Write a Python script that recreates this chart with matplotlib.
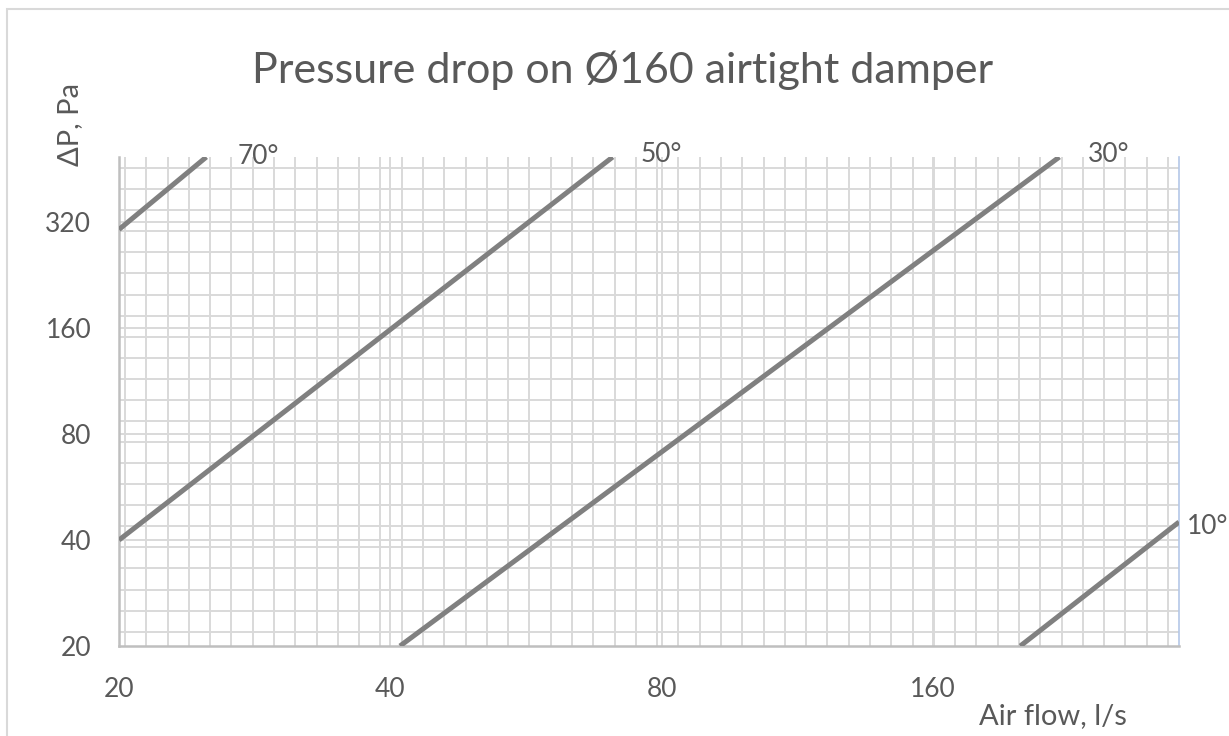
import matplotlib
matplotlib.use("Agg")
import matplotlib.pyplot as plt
from matplotlib.patches import Rectangle
from matplotlib.ticker import FixedLocator, NullLocator, FuncFormatter
import numpy as np

plt.rcParams['font.family'] = ['Lato', 'DejaVu Sans']

# damper positions and line endpoints (air flow l/s, pressure Pa)
angles = ["70°", "50°", "30°", "10°"]
flow_start = [20, 20, 41, 200]
flow_end = [25, 70.6, 221, 300]
dp_start = [305, 40, 20, 20]
dp_end = [490, 490, 490, 45]

x_ticks = [20, 40, 80, 160]
y_ticks = [20, 40, 80, 160, 320]
x_lim = (20, 300)
y_lim = (20, 490)

GRID = "#d9d9d9"
LINE = "#808080"
TEXT = "#595959"

fig = plt.figure(figsize=(12.29, 7.36), dpi=100)
fig.patches.append(Rectangle((7 / 1229, -0.01), 1.0, 1 - 9 / 736 + 0.01,
                             transform=fig.transFigure, fill=False,
                             edgecolor="#d9d9d9", linewidth=1.5))

ax = fig.add_axes([119 / 1229, 90 / 736, 1060 / 1229, 489 / 736])
ax.set_xscale("log", base=2)
ax.set_yscale("log", base=2)
ax.set_xlim(*x_lim)
ax.set_ylim(*y_lim)

# the even background grid of the original sheet (axes fractions)
for fx in 0.00566 + 0.02008 * np.arange(50):
    ax.plot([fx, fx], [0, 1], transform=ax.transAxes, color=GRID, lw=1.4, zorder=0)
for fy in 0.0292 + 0.0431 * np.arange(23):
    ax.plot([0, 1], [fy, fy], transform=ax.transAxes, color=GRID, lw=1.4, zorder=0)

# major log gridlines
for v in x_ticks[1:]:
    ax.axvline(v, color=GRID, lw=1.4, zorder=0)
for v in y_ticks[1:]:
    ax.axhline(v, color=GRID, lw=1.4, zorder=0)

for q0, q1, p0, p1 in zip(flow_start, flow_end, dp_start, dp_end):
    ax.plot([q0, q1], [p0, p1], color=LINE, lw=3.6, solid_capstyle="butt", zorder=3)

# angle labels next to the line ends
offsets = [(31, 1), (28, 2), (29, 2), (8, -4)]
for name, q1, p1, off in zip(angles, flow_end, dp_end, offsets):
    ax.annotate(name, xy=(q1, p1), xytext=off, textcoords="offset pixels",
                ha="left", va="center", fontsize=19, color=TEXT, annotation_clip=False)

ax.xaxis.set_major_locator(FixedLocator(x_ticks))
ax.yaxis.set_major_locator(FixedLocator(y_ticks))
ax.xaxis.set_minor_locator(NullLocator())
ax.yaxis.set_minor_locator(NullLocator())
fmt = FuncFormatter(lambda v, p: f"{v:g}")
ax.xaxis.set_major_formatter(fmt)
ax.yaxis.set_major_formatter(fmt)
ax.tick_params(axis="both", length=0, labelsize=19, labelcolor=TEXT)
ax.tick_params(axis="x", pad=22)
ax.tick_params(axis="y", pad=20)

ax.spines["top"].set_visible(False)
ax.spines["left"].set_color("#bfbfbf")
ax.spines["left"].set_linewidth(1.8)
ax.spines["bottom"].set_color("#bfbfbf")
ax.spines["bottom"].set_linewidth(1.8)
ax.spines["right"].set_color("#b4c7e7")
ax.spines["right"].set_linewidth(1.2)

fig.text(623 / 1229, 1 - 70 / 736, "Pressure drop on Ø160 airtight damper",
         ha="center", va="center", fontsize=31, color=TEXT)
fig.text(70 / 1229, 1 - 124 / 736, "ΔP, Pa", rotation=90, ha="center", va="center",
         fontsize=21, color=TEXT)
fig.text(1053 / 1229, 1 - 716 / 736, "Air flow, l/s", ha="center", va="center",
         fontsize=21, color=TEXT)

fig.savefig("out.png", dpi=100)
